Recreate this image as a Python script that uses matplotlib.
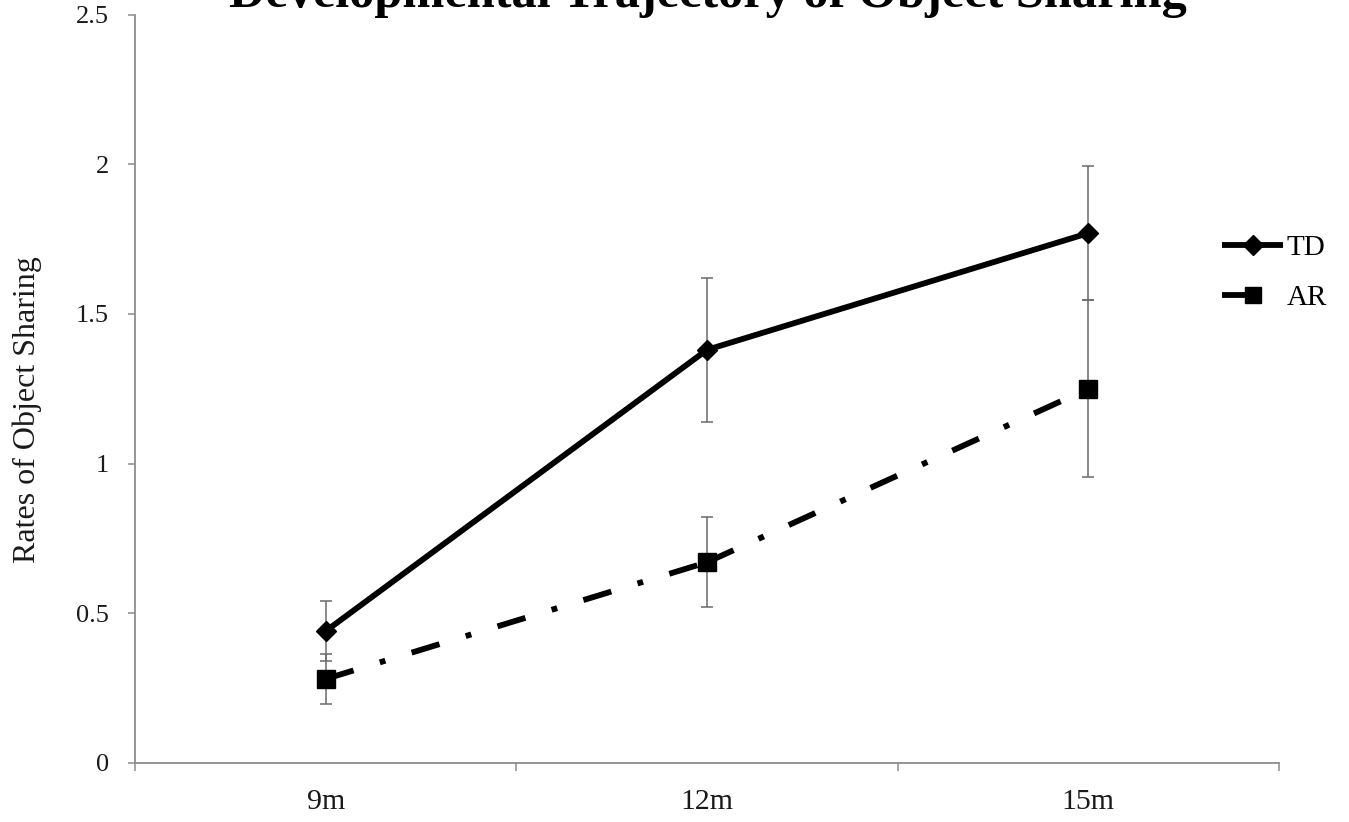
import numpy as np
import matplotlib
matplotlib.use("Agg")
import matplotlib.pyplot as plt
from matplotlib.ticker import FixedLocator

# data
ages = ["9m", "12m", "15m"]
td_mean = [0.44, 1.38, 1.77]
td_err = [0.10, 0.24, 0.225]
ar_mean = [0.28, 0.67, 1.25]
ar_err = [0.085, 0.15, 0.295]
y_ticks = [0, 0.5, 1, 1.5, 2, 2.5]
y_ticklabels = ["0", "0.5", "1", "1.5", "2", "2.5"]

plt.rcParams['font.family'] = ['Liberation Serif', 'DejaVu Serif']

fig = plt.figure(figsize=(13.49, 8.22), dpi=100)
ax = fig.add_axes([0.1001, 0.0721, 0.8480, 0.9100])

x = np.arange(len(ages))
axis_gray = "#8c8c8c"
bar_gray = "#6a6a6a"

# error bars behind the lines
ax.errorbar(x, td_mean, yerr=td_err, fmt="none", ecolor=bar_gray,
            elinewidth=1.1, capsize=4, capthick=1.1, zorder=1)
ax.errorbar(x, ar_mean, yerr=ar_err, fmt="none", ecolor=bar_gray,
            elinewidth=1.1, capsize=4, capthick=1.1, zorder=1)

# TD: solid line with diamonds
ax.plot(x, td_mean, color="black", lw=4.2, solid_capstyle="butt",
        marker="D", markersize=10, zorder=3, label="TD")

# AR: dash-dot, pattern restarts at every point (excel style)
ar_style = (0, (5.0, 4.7, 1.0, 4.7))
for i in range(len(x) - 1):
    ax.plot(x[i:i + 2], ar_mean[i:i + 2], color="black", lw=4.2,
            linestyle=ar_style, dash_capstyle="butt", zorder=3)
ax.plot(x, ar_mean, linestyle="none", color="black", marker="s",
        markersize=13, zorder=4)
# legend proxy (only the first dash shows in the short handle)
ax.plot([], [], color="black", lw=4.2, linestyle=(0, (5.0, 8.0)),
        dash_capstyle="butt", marker="s", markersize=12, label="AR")

ax.set_xlim(-0.5, len(ages) - 0.5)
ax.set_ylim(0, 2.5)
ax.set_yticks(y_ticks)
ax.set_yticklabels(y_ticklabels)
ax.set_xticks(x)
ax.set_xticklabels(ages)
ax.xaxis.set_minor_locator(FixedLocator(np.arange(-0.5, len(ages), 1.0)))

for side in ["top", "right"]:
    ax.spines[side].set_visible(False)
for side in ["left", "bottom"]:
    ax.spines[side].set_color(axis_gray)
    ax.spines[side].set_linewidth(1.3)

ax.tick_params(axis="y", direction="out", length=5, width=1.1, color=axis_gray,
               labelsize=19, labelcolor="#1a1a1a", pad=14)
ax.tick_params(axis="x", which="major", length=0, labelsize=21.5,
               labelcolor="#1a1a1a", pad=19)
ax.tick_params(axis="x", which="minor", direction="out", length=6, width=1.1,
               color=axis_gray)

fig.text(27 / 1349, 1 - 410 / 822, "Rates of Object Sharing", rotation=90,
         ha="center", va="center", fontsize=23, color="#1a1a1a")

fig.text(0.5245, 1 - 7 / 822, "Developmental Trajectory of Object Sharing",
         ha="center", va="baseline", fontsize=36.3, fontweight="bold")

ax.legend(loc="center left", bbox_to_anchor=(0.9059, 1 - 273 / 822),
          bbox_transform=fig.transFigure, frameon=False, fontsize=21,
          handlelength=2.1, handletextpad=0.1, labelspacing=0.82,
          borderpad=0, borderaxespad=0)

fig.savefig("out.png", dpi=100)
